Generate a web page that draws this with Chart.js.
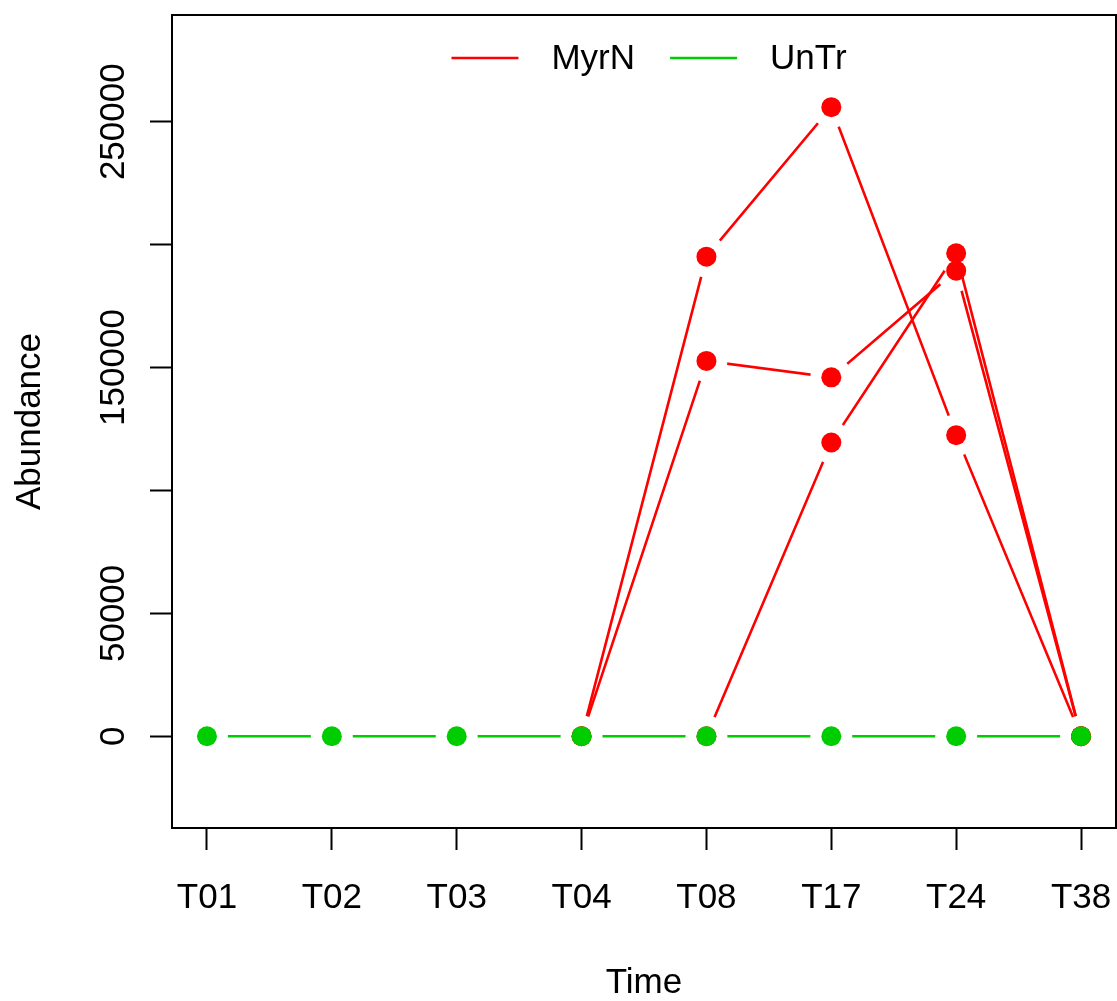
<!DOCTYPE html>
<html>
<head>
<meta charset="utf-8">
<title>Abundance over time</title>
<script src="https://cdn.jsdelivr.net/npm/chart.js@4.4.1/dist/chart.umd.min.js"></script>
<style>
  html, body { margin: 0; padding: 0; background: #fff; overflow: hidden; }
  #abundanceChart { display: block; }
</style>
</head>
<body>
<canvas id="abundanceChart" width="1117" height="1001"></canvas>
<script>
// time points on the x axis
const timePoints = ['T01', 'T02', 'T03', 'T04', 'T08', 'T17', 'T24', 'T38'];

// MyrN replicates (nothing drawn before their first point)
const myrnRep1 = [null, null, null, 0, 195100, 255900, 122500, 0];
const myrnRep2 = [null, null, null, 0, 152700, 146000, 189400, 0];
const myrnRep3 = [null, null, null, null, 0, 119500, 196500, 0];

// UnTr stays at zero
const untrValues = [0, 0, 0, 0, 0, 0, 0, 0];

// y axis ticks, only some of them get a label (like R drops overlapping ones)
const yTicks = [0, 50000, 100000, 150000, 200000, 250000];
const yTickLabels = [0, 50000, 150000, 250000];

const legendNames = ['MyrN', 'UnTr'];

const RED = '#ff0000';
const GREEN = '#00cd00';
const FONT = "'Liberation Sans', Arial, Helvetica, sans-serif";
const FONT_SIZE = 35;

const toPoints = vals => vals.map((v, i) => ({ x: i, y: v }));

// a series is a line (with gaps around its points, like type = "b") plus its points
function lineSet(vals, color) {
    return {
        data: toPoints(vals),
        borderColor: color,
        borderWidth: 2.6,
        pointRadius: 0,
        showLine: true,
        spanGaps: false,
        gapRadius: 21
    };
}
function pointSet(vals, color) {
    return {
        data: toPoints(vals),
        showLine: false,
        pointRadius: 10,
        pointHoverRadius: 10,
        pointBorderWidth: 0,
        pointBackgroundColor: color,
        borderColor: color
    };
}

// cut holes around each point so the line stops short of it
const lineGaps = {
    id: 'lineGaps',
    beforeDatasetDraw(chart, args) {
        const ds = chart.data.datasets[args.index];
        if (!ds.gapRadius) return;
        const path = new Path2D();
        path.rect(0, 0, chart.width, chart.height);
        args.meta.data.forEach(pt => {
            if (pt.skip) return;
            path.moveTo(pt.x + ds.gapRadius, pt.y);
            path.arc(pt.x, pt.y, ds.gapRadius, 0, Math.PI * 2);
        });
        chart.ctx.save();
        chart.ctx.clip(path, 'evenodd');
    },
    afterDatasetDraw(chart, args) {
        if (chart.data.datasets[args.index].gapRadius) chart.ctx.restore();
    }
};

// box, rotated y labels and the in-plot legend
const rDecor = {
    id: 'rDecor',
    afterDatasetsDraw(chart) {
        const { ctx, chartArea, scales } = chart;
        ctx.save();
        ctx.strokeStyle = '#000';
        ctx.lineWidth = 2;
        ctx.strokeRect(chartArea.left, chartArea.top, chartArea.right - chartArea.left, chartArea.bottom - chartArea.top);

        ctx.fillStyle = '#000';
        ctx.font = FONT_SIZE + 'px ' + FONT;
        ctx.textAlign = 'center';
        ctx.textBaseline = 'middle';
        yTickLabels.forEach(v => {
            const y = scales.y.getPixelForValue(v);
            ctx.save();
            ctx.translate(chartArea.left - 57.5, y);
            ctx.rotate(-Math.PI / 2);
            ctx.fillText(String(v), 0, 0);
            ctx.restore();
        });

        // legend
        const colors = [RED, GREEN];
        const lineLen = 67, textGap = 33, itemGap = 35;
        const widths = legendNames.map(n => ctx.measureText(n).width);
        let total = 0;
        widths.forEach((w, i) => { total += lineLen + textGap + w + (i < widths.length - 1 ? itemGap : 0); });
        let x = (chartArea.left + chartArea.right) / 2 - total / 2 + 5;
        const ly = chartArea.top + 43;
        ctx.textAlign = 'left';
        ctx.textBaseline = 'middle';
        legendNames.forEach((name, i) => {
            ctx.strokeStyle = colors[i];
            ctx.lineWidth = 2.6;
            ctx.beginPath();
            ctx.moveTo(x, ly);
            ctx.lineTo(x + lineLen, ly);
            ctx.stroke();
            x += lineLen + textGap;
            ctx.fillStyle = '#000';
            ctx.fillText(name, x, ly + 1);
            x += widths[i] + itemGap;
        });
        ctx.restore();
    }
};

const ctx = document.getElementById('abundanceChart').getContext('2d');
new Chart(ctx, {
    type: 'line',
    data: {
        datasets: [
            pointSet(untrValues, GREEN),
            lineSet(untrValues, GREEN),
            pointSet(myrnRep1, RED),
            pointSet(myrnRep2, RED),
            pointSet(myrnRep3, RED),
            lineSet(myrnRep1, RED),
            lineSet(myrnRep2, RED),
            lineSet(myrnRep3, RED)
        ]
    },
    options: {
        responsive: false,
        devicePixelRatio: 1,
        animation: false,
        events: [],
        layout: { autoPadding: false, padding: { top: 15, right: 1, left: 0, bottom: 0 } },
        plugins: {
            legend: { display: false },
            tooltip: { enabled: false }
        },
        scales: {
            x: {
                type: 'linear',
                min: -0.28,
                max: 7.28,
                afterBuildTicks: scale => { scale.ticks = timePoints.map((_, i) => ({ value: i })); },
                afterFit: scale => {
                    scale.height = 173;
                    // labels overhang is fine, don't let it shrink the plot
                    scale.paddingLeft = 0;
                    scale.paddingRight = 0;
                },
                border: { display: false },
                grid: { drawOnChartArea: false, drawTicks: true, tickLength: 22, tickWidth: 2, tickColor: '#000' },
                ticks: {
                    color: '#000',
                    font: { family: FONT, size: FONT_SIZE },
                    padding: 27,
                    maxRotation: 0,
                    autoSkip: false,
                    callback: v => timePoints[v]
                },
                title: {
                    display: true,
                    text: 'Time',
                    color: '#000',
                    font: { family: FONT, size: FONT_SIZE, lineHeight: 1 },
                    padding: { top: 0, bottom: 0 }
                }
            },
            y: {
                min: -37300,
                max: 293400,
                afterBuildTicks: scale => { scale.ticks = yTicks.map(v => ({ value: v })); },
                afterFit: scale => {
                    scale.width = 172;
                    scale.paddingTop = 0;
                    scale.paddingBottom = 0;
                },
                border: { display: false },
                grid: { drawOnChartArea: false, drawTicks: true, tickLength: 22, tickWidth: 2, tickColor: '#000' },
                ticks: { display: false },
                title: {
                    display: true,
                    text: 'Abundance',
                    color: '#000',
                    font: { family: FONT, size: FONT_SIZE, lineHeight: 1 },
                    padding: { top: 12.5, bottom: 0 }
                }
            }
        }
    },
    plugins: [lineGaps, rDecor]
});
</script>
</body>
</html>
